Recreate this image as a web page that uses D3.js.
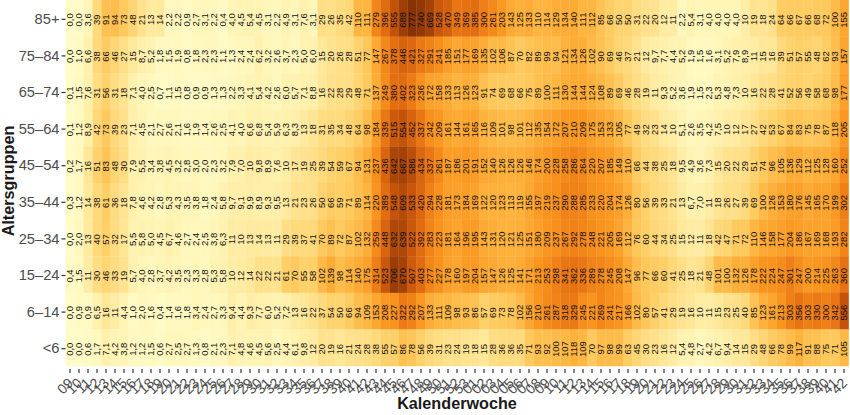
<!DOCTYPE html>
<html><head><meta charset="utf-8">
<style>html,body{margin:0;padding:0;background:#fff}svg{display:block}</style>
<script src="https://cdn.jsdelivr.net/npm/d3@7"></script></head><body>
<svg id="c" width="850" height="415"></svg>
<script>
const ageGroups = ["85+","75–84","65–74","55–64","45–54","35–44","25–34","15–24","6–14","<6"];
const weeks = ["09","10","11","12","13","14","15","16","17","18","19","20","21","22","23","24","25","26","27","28","29","30","31","32","33","34","35","36","37","38","39","40","41","42","43","44","45","46","47","48","49","50","51","52","53","01","02","03","04","05","06","07","08","09","10","11","12","13","14","15","16","17","18","19","20","21","22","23","24","25","26","27","28","29","30","31","32","33","34","35","36","37","38","39","40","41","42"];
const row85 = [0.0,0.0,3.6,39,91,94,73,48,21,13,14,2.2,2.2,0.9,2.7,3.1,2.2,0.4,4.0,4.5,5.4,4.5,3.1,2.2,4.9,3.1,7.6,3.1,29,26,35,42,110,111,279,396,555,688,777,740,669,528,470,349,369,385,300,261,203,143,125,133,110,114,129,134,140,111,112,85,66,50,50,31,22,20,12,11,2.2,5.4,3.1,4.0,4.0,4.0,4.0,10,19,18,24,64,66,67,66,68,72,100,155];
const row75 = [0.0,1.0,6.6,38,66,46,27,15,8.7,5.2,1.8,1.5,1.9,0.8,1.8,2.3,2.3,1.1,1.3,2.4,2.4,6.2,3.2,2.6,3.7,2.3,5.0,6.0,15,20,26,28,51,77,147,267,378,446,421,327,291,241,185,151,177,169,135,102,106,87,70,82,89,99,94,121,134,126,102,90,69,46,37,21,12,9.7,7.7,4.4,5.2,1.9,1.5,1.6,3.1,5.2,7.9,8.9,11,15,16,39,51,57,55,48,62,93,157];
const row65 = [0.1,1.5,7.6,31,56,31,18,7.1,4.0,2.5,0.7,1.1,1.5,0.8,0.9,0.9,1.3,1.3,2.2,3.3,4.1,5.4,4.2,2.6,6.0,5.7,7.1,8.8,16,22,28,29,48,71,137,249,380,402,323,236,172,158,133,113,126,123,91,74,69,68,66,75,89,100,111,130,144,144,124,108,89,69,46,28,19,11,9.3,5.2,3.6,1.9,1.5,2.3,5.3,4.8,7.3,10,16,22,28,41,52,56,49,58,68,98,177];
const row55 = [0.1,1.2,8.9,42,73,39,23,7.1,4.5,2.1,2.7,2.6,2.1,1.6,1.9,1.4,2.6,2.5,4.1,4.0,6.6,6.8,5.4,5.9,6.3,8.3,13,18,31,35,34,48,64,98,184,339,515,554,452,337,242,209,161,144,161,165,116,109,101,98,101,112,135,154,172,207,210,209,175,153,133,105,77,49,32,23,14,10,5.1,2.6,3.5,4.2,7.5,10,12,17,27,42,53,67,84,83,75,78,87,118,205];
const row45 = [0.2,1.7,16,51,83,48,30,7.9,5.5,3.4,3.8,4.5,3.2,2.8,3.0,2.0,2.3,3.2,7.9,7.0,10,9.8,8.9,7.6,10,17,19,25,39,54,59,67,94,131,237,436,642,667,586,434,337,261,187,186,201,191,152,140,126,126,126,146,174,200,228,258,286,264,220,207,185,149,110,66,44,38,25,18,9.5,4.9,3.6,7.3,15,20,22,29,51,74,96,105,136,129,112,125,128,160,252];
const row35 = [0.3,1.2,14,38,61,36,18,7.8,4.6,4.2,2.8,5.3,4.3,3.5,3.8,1.8,2.4,5.8,9.7,9.1,9.9,8.9,9.3,9.5,13,21,23,26,50,66,59,71,89,114,220,389,548,609,533,420,294,228,181,173,184,169,122,120,123,113,119,155,197,219,237,290,288,285,233,220,204,174,126,80,56,39,33,21,13,6.7,7.0,11,18,26,27,39,69,100,126,153,180,176,145,165,170,199,302];
const row25 = [0.0,2.0,13,40,57,32,17,5.5,5.8,5.0,4.5,6.7,4.6,2.7,2.4,2.5,3.8,6.3,11,10,13,14,13,11,29,39,37,41,70,89,72,87,102,132,259,448,632,639,522,392,283,223,181,164,196,195,143,131,120,121,125,151,180,209,237,267,292,278,248,221,205,169,112,76,60,44,34,25,15,12,11,18,42,47,71,72,110,146,158,177,204,186,167,169,168,193,282];
const row15 = [0.4,1.5,11,30,46,33,19,5.7,4.0,2.8,3.7,4.2,3.5,2.3,3.3,2.8,5.3,5.8,10,12,14,22,22,21,61,70,55,58,102,139,98,114,140,175,314,523,706,670,507,403,277,227,178,160,197,204,157,147,126,125,141,171,213,253,298,341,362,336,289,278,245,208,147,96,77,66,60,41,25,18,21,48,101,100,132,126,178,222,224,247,301,247,200,214,225,263,360];
const row6 = [0.0,0.9,0.9,6.5,16,11,4.4,1.0,2.0,1.6,0.4,1.4,1.6,1.8,3.4,2.4,2.7,3.3,9.4,4.4,9.3,7.7,6.0,5.2,7.2,13,16,22,37,54,50,66,94,109,153,208,227,322,292,207,133,111,109,98,93,86,57,69,73,78,102,156,210,261,287,318,329,245,221,269,241,217,166,102,80,57,41,29,19,16,10,11,15,23,25,40,85,123,161,213,303,356,303,330,300,342,556];
const row0 = [0.0,0.0,0.6,1.7,7.1,4.2,3.8,1.2,1.2,1.5,0.6,2.7,2.5,2.7,1.3,0.8,2.1,2.3,7.1,4.8,4.6,4.5,5.6,2.5,4.4,6.1,9.8,12,20,19,16,21,24,28,38,55,57,86,78,56,39,31,23,24,19,18,15,28,36,36,35,71,93,92,100,107,118,109,70,97,98,99,63,45,30,23,16,12,5.4,4.8,2.7,4.2,6.7,9.4,14,15,29,48,66,78,99,117,91,88,75,71,105];
const rows = [row85,row75,row65,row55,row45,row35,row25,row15,row6,row0];

const svg = d3.select("#c");
const plotL = 65.5, plotR = 848.5, plotT = 0, plotB = 366;
const idx = d3.range(weeks.length);
const x = d3.scaleBand().domain(idx).range([plotL,plotR]).padding(0);
const y = d3.scaleBand().domain(ageGroups).range([plotT,plotB]).padding(0);
const color = d3.scaleLinear()
  .domain([0,5,20,60,120,220,350,550,777])
  .range(["#fffbc6","#fff3b2","#ffe28e","#fecf66","#feb13b","#f9941e","#e87412","#c5540a","#873205"])
  .clamp(true);
const cells = rows.flatMap((r,ri)=>r.map((v,ci)=>({v,ci,age:ageGroups[ri]})));
svg.append("g").selectAll("rect").data(cells).join("rect")
  .attr("x",d=>x(d.ci)).attr("y",d=>y(d.age))
  .attr("width",x.bandwidth()+0.3).attr("height",y.bandwidth()+0.3)
  .attr("fill",d=>color(d.v));
const fmt = v => v<10 ? v.toFixed(1).replace(".",",") : String(v);
svg.append("g").selectAll("text").data(cells).join("text")
  .attr("transform",d=>`translate(${x(d.ci)+x.bandwidth()/2},${y(d.age)+y.bandwidth()/2+1.5}) rotate(-90)`)
  .attr("text-anchor","middle").attr("dy","0.35em")
  .attr("font-family","Liberation Sans, Arial, sans-serif").attr("font-size",9.5)
  .attr("fill","#111").text(d=>fmt(d.v));

const yAxis = d3.axisLeft(y).tickSize(4).tickPadding(2);
const gy = svg.append("g").attr("transform",`translate(${plotL},1)`).call(yAxis);
gy.select(".domain").remove();
gy.selectAll("line").attr("stroke","#333").attr("stroke-width",1.2);
gy.selectAll("text").attr("font-family","Liberation Sans, Arial, sans-serif").attr("font-size",14.7).attr("fill","#4d4d4d");

const xAxis = d3.axisBottom(x).tickSize(4).tickPadding(2).tickFormat(i=>weeks[i]);
const gx = svg.append("g").attr("transform",`translate(0,${plotB+3})`).call(xAxis);
gx.select(".domain").remove();
gx.selectAll("line").attr("stroke","#333").attr("stroke-width",1.2);
gx.selectAll("text")
  .attr("font-family","Liberation Sans, Arial, sans-serif").attr("font-size",14).attr("fill","#4d4d4d")
  .attr("text-anchor","end").attr("dy",0).attr("y",0)
  .attr("transform","translate(4,15) rotate(-45)");

svg.append("text").attr("x",457).attr("y",409).attr("text-anchor","middle")
  .attr("font-family","Liberation Sans, Arial, sans-serif").attr("font-weight","bold").attr("font-size",16.2).attr("fill","#1a1a1a").text("Kalenderwoche");
svg.append("text").attr("transform","translate(14,181) rotate(-90)").attr("text-anchor","middle")
  .attr("font-family","Liberation Sans, Arial, sans-serif").attr("font-weight","bold").attr("font-size",16.2).attr("fill","#1a1a1a").text("Altersgruppen");
</script></body></html>
